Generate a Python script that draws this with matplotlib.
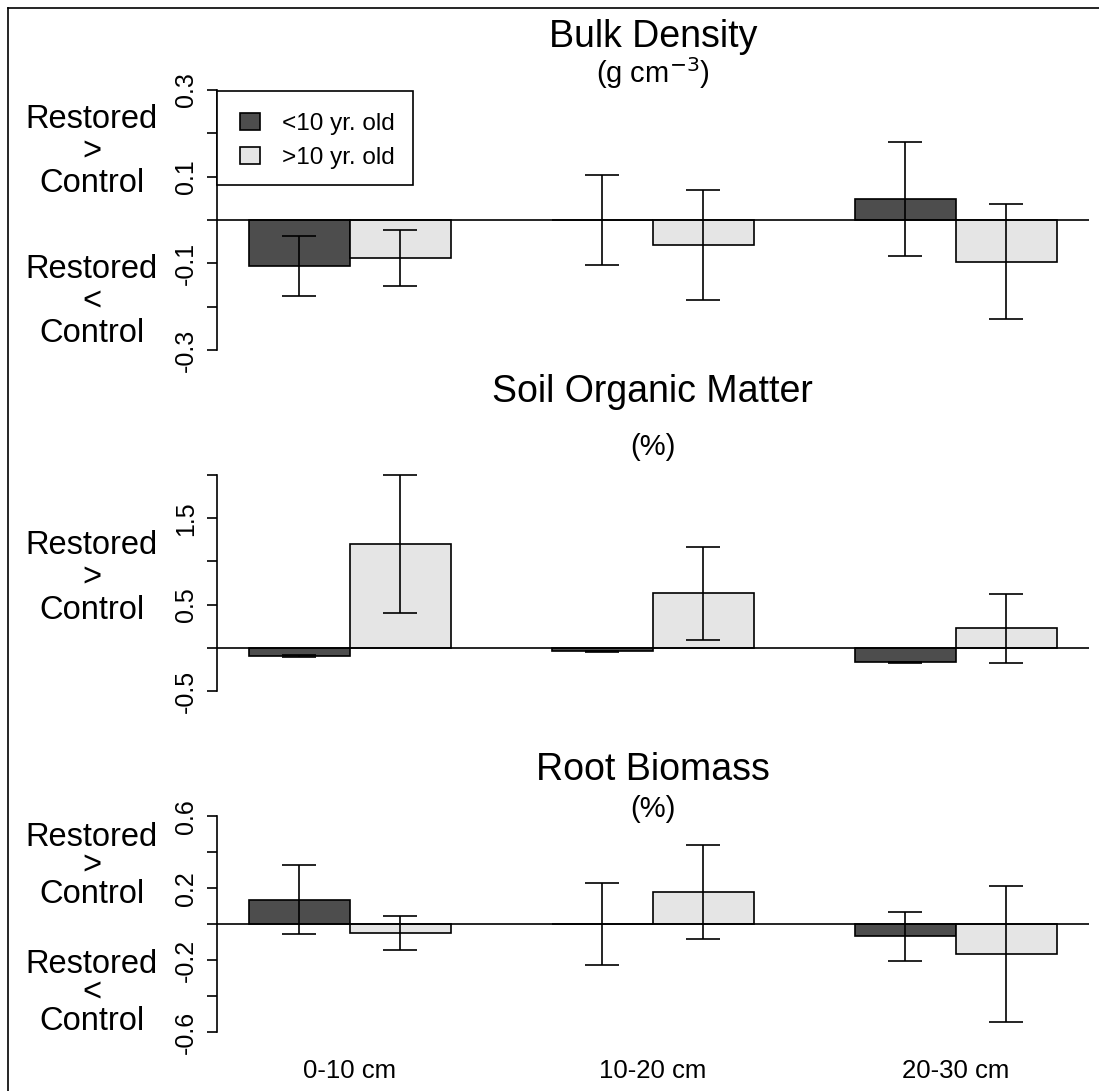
import numpy as np
import matplotlib
matplotlib.use("Agg")
import matplotlib.pyplot as plt
from matplotlib.patches import Rectangle
from matplotlib.lines import Line2D

plt.rcParams["font.family"] = ["Liberation Sans", "DejaVu Sans"]

# data: restored minus control, mean and error half-width
depths = ["0-10 cm", "10-20 cm", "20-30 cm"]
groups = ["<10 yr. old", ">10 yr. old"]

bd_young = [-0.106, 0.0, 0.048]
bd_young_err = [0.070, 0.104, 0.131]
bd_old = [-0.087, -0.058, -0.096]
bd_old_err = [0.065, 0.127, 0.133]

som_young = [-0.10, -0.04, -0.17]
som_young_err = [0.012, 0.006, 0.004]
som_old = [1.20, 0.63, 0.225]
som_old_err = [0.80, 0.54, 0.40]

rb_young = [0.137, 0.0, -0.067]
rb_young_err = [0.193, 0.228, 0.137]
rb_old = [-0.046, 0.18, -0.165]
rb_old_err = [0.095, 0.26, 0.38]

bd_ticks = [-0.3, -0.2, -0.1, 0.0, 0.1, 0.2, 0.3]
bd_labels = ["-0.3", "", "-0.1", "", "0.1", "", "0.3"]
som_ticks = [-0.5, 0.0, 0.5, 1.0, 1.5, 2.0]
som_labels = ["-0.5", "", "0.5", "", "1.5", ""]
rb_ticks = [-0.6, -0.4, -0.2, 0.0, 0.2, 0.4, 0.6]
rb_labels = ["-0.6", "", "-0.2", "", "0.2", "", "0.6"]

dark = "#4d4d4d"
light = "#e5e5e5"
W, H = 1099, 1091
LW = 1.2


def fx(px):
    return px / W


def fy(px):
    return 1 - px / H


fig = plt.figure(figsize=(W / 100, H / 100), dpi=100)

# bars of width 1, one empty slot between depth groups (R barplot, beside=TRUE)
group_start = np.array([1.0, 4.0, 7.0])
x_young = group_start + 0.5
x_old = group_start + 1.5
x_mid = group_start + 1.0


def panel(top, bottom, ticks, labels, young, young_err, old, old_err):
    ax = fig.add_axes([fx(216.5), fy(bottom), fx(1089) - fx(216.5), (bottom - top) / H])
    ax.bar(x_young, young, width=1, color=dark, edgecolor="black", linewidth=LW, zorder=2)
    ax.bar(x_old, old, width=1, color=light, edgecolor="black", linewidth=LW, zorder=2)
    for xs, v, e in [(x_young, young, young_err), (x_old, old, old_err)]:
        ax.errorbar(xs, v, yerr=e, fmt="none", ecolor="black", elinewidth=LW,
                    capsize=12.2, capthick=LW, zorder=3)
    ax.axhline(0, color="black", linewidth=LW, zorder=4)
    ax.set_xlim(0.68, 9.32)
    rng = ticks[-1] - ticks[0]
    ax.set_ylim(ticks[0] - 0.04 * rng, ticks[-1] + 0.04 * rng)
    for s in ["top", "right", "bottom"]:
        ax.spines[s].set_visible(False)
    ax.spines["left"].set_bounds(ticks[0], ticks[-1])
    ax.spines["left"].set_linewidth(LW)
    ax.set_yticks(ticks)
    ax.set_yticklabels(labels, rotation=90, va="center", fontsize=18)
    ax.tick_params(axis="y", length=7.5, width=LW, pad=6)
    ax.set_xticks([])
    ax.patch.set_alpha(0)
    return ax


ax1 = panel(79.6, 360.4, bd_ticks, bd_labels, bd_young, bd_young_err, bd_old, bd_old_err)
ax2 = panel(466.4, 699.6, som_ticks, som_labels, som_young, som_young_err, som_old, som_old_err)
ax3 = panel(807.7, 1041.0, rb_ticks, rb_labels, rb_young, rb_young_err, rb_old, rb_old_err)

ax3.set_xticks(x_mid)
ax3.set_xticklabels(depths, fontsize=18.5)
ax3.tick_params(axis="x", length=0, pad=13)

# panel titles
cx = fx(652.8)
fig.text(cx, fy(47), "Bulk Density", ha="center", va="baseline", fontsize=27)
fig.text(cx, fy(83), r"(g cm$^{-3}$)", ha="center", va="baseline", fontsize=21)
fig.text(cx, fy(402), "Soil Organic Matter", ha="center", va="baseline", fontsize=27)
fig.text(cx, fy(455), "(%)", ha="center", va="baseline", fontsize=21)
fig.text(cx, fy(780), "Root Biomass", ha="center", va="baseline", fontsize=27)
fig.text(cx, fy(817), "(%)", ha="center", va="baseline", fontsize=21)


# side annotations, one three-line text each; base = baseline of the last line
def side(base, spacing, sign):
    fig.text(fx(91.5), fy(base), "Restored\n" + sign + "\nControl", ha="center",
             va="baseline", multialignment="center", linespacing=spacing, fontsize=23.5)


side(192, 1.04, ">")
side(342, 1.04, "<")
side(619, 1.07, ">")
side(903, 0.9, ">")
side(1030, 0.9, "<")

# legend box
fig.add_artist(Rectangle((fx(216.5), fy(185)), fx(413) - fx(216.5), (185 - 91) / H,
                         transform=fig.transFigure, facecolor="white", edgecolor="black",
                         linewidth=LW, zorder=5))
for (top, col), name in zip([(113, dark), (147, light)], groups):
    fig.add_artist(Rectangle((fx(240), fy(top + 17)), fx(260) - fx(240), 17 / H,
                             transform=fig.transFigure, facecolor=col, edgecolor="black",
                             linewidth=LW, zorder=6))
    fig.text(fx(282), fy(top + 17), name, ha="left", va="baseline", fontsize=17.5, zorder=6)

# frame lines (top and left)
fig.add_artist(Line2D([fx(8), 1], [fy(8), fy(8)], transform=fig.transFigure, color="black", linewidth=LW))
fig.add_artist(Line2D([fx(8), fx(8)], [fy(8), 0], transform=fig.transFigure, color="black", linewidth=LW))

fig.savefig("out.png", dpi=100, facecolor="white")
